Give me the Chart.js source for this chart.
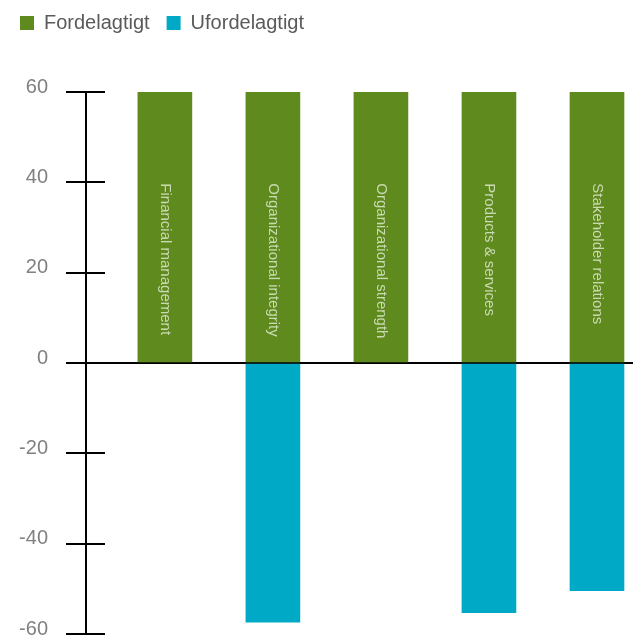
<!DOCTYPE html>
<html><head><meta charset="utf-8">
<script src="https://cdn.jsdelivr.net/npm/chart.js@4"></script>
<style>html,body{margin:0;padding:0;overflow:hidden;background:#fff}#wrap{width:660px;height:637px;position:relative}</style>
</head><body><div id="wrap"><canvas id="c"></canvas></div>
<script>
const categories = ["Financial management","Organizational integrity","Organizational strength","Products & services","Stakeholder relations"];
const favorable = [60,60,60,60,60];
const unfavorable = [null,-57.4,null,-55.3,-50.4];
const yTicks = [-60,-40,-20,0,20,40,60];
const seriesNames = ["Fordelagtigt","Ufordelagtigt"];
const colors = ["#5f8a1e","#00a9c6"];

const FONT = "'Liberation Sans', Arial, sans-serif";

const legendMargin = {
  id:'legendMargin',
  beforeInit(chart){
    const fit = chart.legend.fit;
    chart.legend.fit = function(){ fit.bind(chart.legend)(); this.height += 49; };
  }
};
const tickExt = {
  id:'tickExt',
  afterDraw(chart){
    const y = chart.scales.y, ctx = chart.ctx;
    ctx.save(); ctx.strokeStyle='#000'; ctx.lineWidth=2;
    y.ticks.forEach(t=>{
      const p = Math.round(y.getPixelForValue(t.value));
      ctx.beginPath(); ctx.moveTo(y.right, p); ctx.lineTo(y.right+19, p); ctx.stroke();
    });
    ctx.restore();
  }
};
const barLabels = {
  id:'barLabels',
  afterDatasetsDraw(chart){
    const x = chart.scales.x, y = chart.scales.y, ctx = chart.ctx;
    ctx.save();
    ctx.font = "15px " + FONT;
    ctx.fillStyle = "rgba(228,238,215,0.8)";
    ctx.textAlign = 'left'; ctx.textBaseline = 'middle';
    categories.forEach((c,i)=>{
      const px = x.getPixelForValue(i), py = y.getPixelForValue(40) + 1;
      ctx.save(); ctx.translate(px, py); ctx.rotate(Math.PI/2);
      ctx.fillText(c, 0, 0); ctx.restore();
    });
    ctx.restore();
  }
};

new Chart(document.getElementById('c'), {
  type:'bar',
  data:{
    datasets:[
      {label:seriesNames[0], data:categories.map((c,i)=>({x:i,y:favorable[i]})), backgroundColor:colors[0], barThickness:54, grouped:false},
      {label:seriesNames[1], data:categories.map((c,i)=>({x:i,y:unfavorable[i]})), backgroundColor:colors[1], barThickness:54, grouped:false}
    ]
  },
  options:{
    responsive:true, maintainAspectRatio:false, animation:false,
    layout:{padding:{left:3,right:9,top:-4,bottom:3}},
    plugins:{
      legend:{position:'top', align:'start',
        labels:{boxWidth:14, boxHeight:14, padding:17, color:'#5a5a5a', font:{family:FONT,size:20}}},
      tooltip:{enabled:false}
    },
    scales:{
      x:{type:'linear', min:-0.73, max:4.5, offset:false, display:false},
      y:{min:-60, max:60,
        afterBuildTicks:s=>{ s.ticks = yTicks.map(v=>({value:v})); },
        afterFit:s=>{ s.width = 83; s.paddingBottom = 0; },
        border:{display:true, color:'#000', width:2},
        grid:{drawOnChartArea:true, color:c=> (c.tick && c.tick.value===0) ? '#000' : 'rgba(0,0,0,0)', lineWidth:2,
              drawTicks:true, tickLength:20, tickColor:'#000', tickWidth:2},
        ticks:{padding:18, labelOffset:-5, color:'#808080', font:{family:FONT,size:20,lineHeight:0.4}}
      }
    }
  },
  plugins:[legendMargin, tickExt, barLabels]
});
</script></body></html>
